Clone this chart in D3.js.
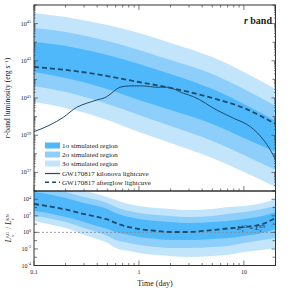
<!DOCTYPE html>
<html>
<head>
<meta charset="utf-8">
<script src="https://cdn.jsdelivr.net/npm/d3@7"></script>
<style>
  body { margin: 0; background: #fff; }
  text { font-family: "Liberation Serif", "DejaVu Serif", serif; fill: #222; }
</style>
</head>
<body>
<div id="chart"></div>
<script>
// ---- data (log10 values) ----
var tTop = [0.1, 0.2, 0.5, 1, 2, 5, 10, 20];
var sig3Up = [45.57, 45.35, 44.92, 44.49, 43.96, 43.20, 42.40, 41.48];
var sig2Up = [44.76, 44.55, 44.06, 43.58, 43.04, 42.29, 41.48, 40.57];
var sig1Up = [44.01, 43.80, 43.31, 42.83, 42.29, 41.48, 40.68, 39.76];
var sig1Lo = [42.40, 42.08, 41.48, 40.89, 40.35, 39.60, 38.85, 38.10];
var sig2Lo = [41.65, 41.32, 40.68, 40.09, 39.49, 38.69, 37.94, 37.13];
var sig3Lo = [40.78, 40.46, 39.82, 39.17, 38.58, 37.77, 37.02, 36.22];
var afterglowL = [42.67, 42.51, 42.18, 41.86, 41.54, 41.00, 40.46, 39.60];

var tKN = [0.1, 0.142, 0.19, 0.255, 0.318, 0.396, 0.494, 0.57, 0.66, 0.82, 1.11, 1.43, 1.85, 2.66, 3.31, 5.53, 7.98, 11.5, 15.4, 17.9, 20];
var kilonovaL = [39.19, 39.55, 39.96, 40.50, 40.72, 40.89, 41.07, 41.34, 41.58, 41.65, 41.65, 41.58, 41.58, 41.25, 41.07, 40.35, 39.91, 39.46, 38.74, 38.20, 37.67];

var tBot = [0.1, 0.15, 0.2, 0.3, 0.4, 0.5, 0.6, 0.8, 1, 1.5, 2, 3, 5, 7, 10, 15, 20];
var ratioMed = [3.43, 3.07, 2.77, 2.22, 1.86, 1.56, 1.14, 0.65, 0.41, 0.17, 0.05, 0.05, 0.29, 0.47, 0.65, 1.01, 1.74];
var rSig1Up = [4.88, 4.52, 4.15, 3.55, 3.19, 2.83, 2.34, 1.86, 1.62, 1.38, 1.26, 1.14, 1.26, 1.38, 1.62, 1.98, 2.46];
var rSig1Lo = [2.58, 2.22, 1.86, 1.26, 0.77, 0.41, 0.05, -0.31, -0.56, -0.80, -0.92, -0.92, -0.80, -0.68, -0.43, -0.07, 0.41];
var rSig2Up = [5.72, 5.24, 4.88, 4.28, 3.91, 3.55, 3.07, 2.58, 2.34, 2.10, 1.98, 1.86, 1.98, 2.22, 2.46, 2.83, 3.19];
var rSig2Lo = [1.98, 1.62, 1.26, 0.53, 0.05, -0.43, -0.92, -1.28, -1.52, -1.76, -1.88, -1.88, -1.76, -1.64, -1.28, -0.92, -0.68];
var rSig3Up = [6.57, 6.09, 5.60, 5.00, 4.64, 4.28, 3.91, 3.43, 3.19, 2.95, 2.83, 2.71, 2.83, 3.07, 3.19, 3.55, 4.03];
var rSig3Lo = [1.38, 0.89, 0.53, -0.31, -0.80, -1.28, -1.88, -2.25, -2.49, -2.73, -2.85, -2.97, -2.85, -2.73, -2.37, -2.13, -1.88];

var topTickExp = [37, 39, 41, 43, 45];
var botTickExp = [-4, -2, 0, 2, 4];
var xTickLabels = [0.1, 1, 10];

var legendItems = ["1\u03c3 simulated region", "2\u03c3 simulated region", "3\u03c3 simulated region",
                   "GW170817 kilonova lightcuve", "GW170817 afterglow lightcuve"];

// ---- layout ----
var W = 293, H = 294;
var x0 = 34, x1 = 275.5;
var topY0 = 5, topY1 = 191, botY1 = 265.5;

var c1 = "#4fb8fb", c2 = "#8dcefb", c3 = "#c3e5fb", lineCol = "#1e4a6c";

var svg = d3.select("#chart").append("svg").attr("width", W).attr("height", H);

var x = d3.scaleLog().domain([0.1, 20]).range([x0, x1]);
var yTop = d3.scaleLog().domain([1e36, 1e46]).range([topY1, topY0]);
var yBot = d3.scaleLog().domain([1e-4, 1e5]).range([botY1, topY1]);

function p10(v) { return Math.pow(10, v); }

var defs = svg.append("defs");
defs.append("clipPath").attr("id", "clipTop").append("rect")
  .attr("x", x0).attr("y", topY0).attr("width", x1 - x0).attr("height", topY1 - topY0);
defs.append("clipPath").attr("id", "clipBot").append("rect")
  .attr("x", x0).attr("y", topY1).attr("width", x1 - x0).attr("height", botY1 - topY1);

function band(ts, lo, hi, y) {
  return d3.area()
    .x(function(d, i) { return x(ts[i]); })
    .y0(function(d, i) { return y(p10(lo[i])); })
    .y1(function(d, i) { return y(p10(hi[i])); })
    .curve(d3.curveMonotoneX)(ts);
}
function line(ts, vals, y) {
  return d3.line()
    .x(function(d, i) { return x(ts[i]); })
    .y(function(d, i) { return y(p10(vals[i])); })
    .curve(d3.curveMonotoneX)(ts);
}

// top panel
var gTop = svg.append("g").attr("clip-path", "url(#clipTop)");
gTop.append("path").attr("d", band(tTop, sig3Lo, sig3Up, yTop)).attr("fill", c3);
gTop.append("path").attr("d", band(tTop, sig2Lo, sig2Up, yTop)).attr("fill", c2);
gTop.append("path").attr("d", band(tTop, sig1Lo, sig1Up, yTop)).attr("fill", c1);
gTop.append("path").attr("d", line(tTop, afterglowL, yTop)).attr("fill", "none")
  .attr("stroke", lineCol).attr("stroke-width", 1.8).attr("stroke-dasharray", "5,3");
gTop.append("path").attr("d", line(tKN, kilonovaL, yTop)).attr("fill", "none")
  .attr("stroke", lineCol).attr("stroke-width", 1);

// bottom panel
var gBot = svg.append("g").attr("clip-path", "url(#clipBot)");
gBot.append("path").attr("d", band(tBot, rSig3Lo, rSig3Up, yBot)).attr("fill", c3);
gBot.append("path").attr("d", band(tBot, rSig2Lo, rSig2Up, yBot)).attr("fill", c2);
gBot.append("path").attr("d", band(tBot, rSig1Lo, rSig1Up, yBot)).attr("fill", c1);
gBot.append("line").attr("x1", x0).attr("x2", x1).attr("y1", yBot(1)).attr("y2", yBot(1))
  .attr("stroke", "#888").attr("stroke-width", 0.8).attr("stroke-dasharray", "2,2");
gBot.append("path").attr("d", line(tBot, ratioMed, yBot)).attr("fill", "none")
  .attr("stroke", lineCol).attr("stroke-width", 1.8).attr("stroke-dasharray", "5,3");

// ---- axes / ticks ----
var xMinor = [];
[0.1, 1, 10].forEach(function(d) {
  for (var k = 1; k < 10; k++) { var v = d * k; if (v <= 20) xMinor.push(v); }
});
var xMajor = [0.1, 1, 10];

function xTicks(yPos, dir) {
  var g = svg.append("g").attr("stroke", "#444").attr("stroke-width", 0.7);
  xMinor.forEach(function(v) {
    var len = xMajor.indexOf(v) >= 0 ? 5 : 2.5;
    g.append("line").attr("x1", x(v)).attr("x2", x(v)).attr("y1", yPos).attr("y2", yPos + dir * len);
  });
}
xTicks(topY0, 1);
xTicks(topY1, -1);
xTicks(botY1, -1);

function yTicks(scale, lo, hi, minor, labelled) {
  var g = svg.append("g").attr("stroke", "#444").attr("stroke-width", 0.7);
  for (var e = lo; e <= hi; e++) {
    var len = labelled.indexOf(e) >= 0 ? 4 : 3;
    [[x0, 1], [x1, -1]].forEach(function(s) {
      g.append("line").attr("x1", s[0]).attr("x2", s[0] + s[1] * len)
        .attr("y1", scale(p10(e))).attr("y2", scale(p10(e)));
    });
    if (minor && e < hi) {
      for (var k = 2; k < 10; k++) {
        var yy = scale(p10(e) * k);
        [[x0, 1], [x1, -1]].forEach(function(s) {
          g.append("line").attr("x1", s[0]).attr("x2", s[0] + s[1] * 1.5).attr("y1", yy).attr("y2", yy);
        });
      }
    }
  }
}
yTicks(yTop, 36, 46, true, topTickExp);
yTicks(yBot, -4, 5, false, botTickExp);

// frames
svg.append("rect").attr("x", x0).attr("y", topY0).attr("width", x1 - x0).attr("height", topY1 - topY0)
  .attr("fill", "none").attr("stroke", "#333").attr("stroke-width", 1);
svg.append("rect").attr("x", x0).attr("y", topY1).attr("width", x1 - x0).attr("height", botY1 - topY1)
  .attr("fill", "none").attr("stroke", "#333").attr("stroke-width", 1);

// y tick labels
function powLabel(yPos, e) {
  var t = svg.append("text").attr("x", x0 - 3).attr("y", yPos + 2).attr("text-anchor", "end")
    .style("font-size", "6px");
  t.append("tspan").text("10");
  t.append("tspan").attr("dy", -2.5).style("font-size", "4.2px").text(e);
}
topTickExp.forEach(function(e) { powLabel(yTop(p10(e)), e); });
botTickExp.forEach(function(e) { powLabel(yBot(p10(e)), e); });

// x tick labels
xTickLabels.forEach(function(v) {
  svg.append("text").attr("x", x(v)).attr("y", botY1 + 8).attr("text-anchor", "middle")
    .style("font-size", "6px").text(v);
});

svg.append("text").attr("x", 155).attr("y", 286).attr("text-anchor", "middle")
  .style("font-size", "8px").text("Time (day)");

// y labels
var yl = svg.append("text").attr("transform", "translate(10," + (topY0 + topY1) / 2 + ") rotate(-90)")
  .attr("text-anchor", "middle").style("font-size", "7.5px");
yl.append("tspan").style("font-style", "italic").text("r");
yl.append("tspan").text("-band luminosity (erg s");
yl.append("tspan").attr("dy", -2.5).style("font-size", "5px").text("\u22121");
yl.append("tspan").attr("dy", 2.5).text(")");

var yl2 = svg.append("text").attr("transform", "translate(11," + (topY1 + botY1) / 2 + ") rotate(-90)")
  .attr("text-anchor", "middle").style("font-size", "7.5px");
yl2.append("tspan").style("font-style", "italic").text("L");
yl2.append("tspan").attr("dy", -2.5).style("font-size", "4.5px").text("AG");
yl2.append("tspan").attr("dx", -5).attr("dy", 5).style("font-size", "4.5px").style("font-style", "italic").text("\u03bd");
yl2.append("tspan").attr("dx", 4).attr("dy", -2.5).text(" / ");
yl2.append("tspan").style("font-style", "italic").text("L");
yl2.append("tspan").attr("dy", -2.5).style("font-size", "4.5px").text("KN");
yl2.append("tspan").attr("dx", -6).attr("dy", 5).style("font-size", "4.5px").style("font-style", "italic").text("\u03bd");

// annotation in bottom panel
var an = svg.append("text").attr("x", 237).attr("y", yBot(1) - 2).style("font-size", "7px");
an.append("tspan").style("font-style", "italic").text("L");
an.append("tspan").attr("dy", -2.5).style("font-size", "4.2px").text("AG");
an.append("tspan").attr("dx", -5).attr("dy", 4.5).style("font-size", "4.2px").style("font-style", "italic").text("\u03bd");
an.append("tspan").attr("dx", 4).attr("dy", -2).text(" = ");
an.append("tspan").style("font-style", "italic").text("L");
an.append("tspan").attr("dy", -2.5).style("font-size", "4.2px").text("KN");
an.append("tspan").attr("dx", -5.5).attr("dy", 4.5).style("font-size", "4.2px").style("font-style", "italic").text("\u03bd");

// title
var tt = svg.append("text").attr("x", 272).attr("y", 24).attr("text-anchor", "end")
  .style("font-size", "10px").style("font-weight", "bold");
tt.append("tspan").style("font-style", "italic").text("r");
tt.append("tspan").text(" band");

// legend
var lg = svg.append("g").attr("transform", "translate(45,0)");
var legY = [145.5, 154.5, 163.5, 173.5, 182.3];
[c1, c2, c3].forEach(function(c, i) {
  lg.append("rect").attr("x", 0).attr("y", legY[i] - 3).attr("width", 15).attr("height", 6).attr("fill", c);
});
lg.append("line").attr("x1", 0).attr("x2", 15).attr("y1", legY[3]).attr("y2", legY[3])
  .attr("stroke", lineCol).attr("stroke-width", 1.2);
lg.append("line").attr("x1", 0).attr("x2", 15).attr("y1", legY[4]).attr("y2", legY[4])
  .attr("stroke", lineCol).attr("stroke-width", 1.5).attr("stroke-dasharray", "4,3");
legendItems.forEach(function(s, i) {
  lg.append("text").attr("x", 17).attr("y", legY[i] + 2.4).style("font-size", "7px").text(s);
});
</script>
</body>
</html>
